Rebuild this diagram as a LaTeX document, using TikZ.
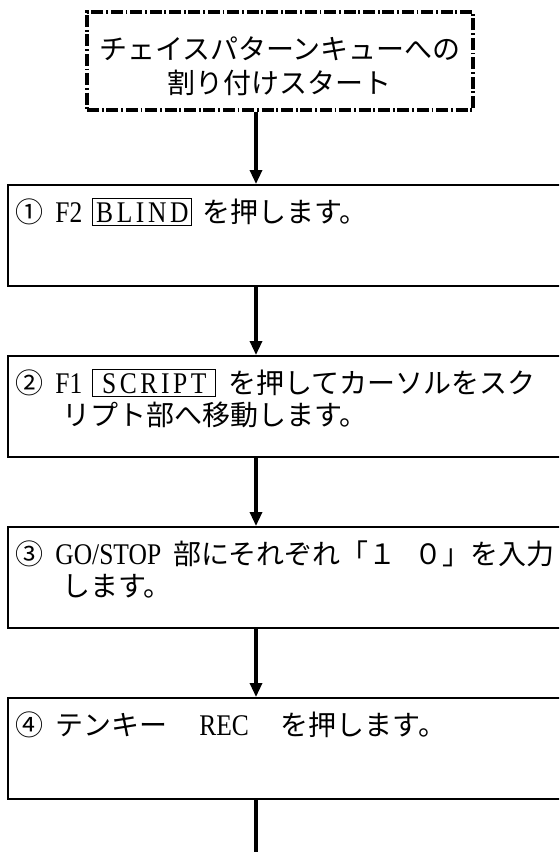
\documentclass[tikz,border=0pt]{standalone}
\usepackage{fontspec}
\setmainfont{Noto Sans CJK JP}
\newfontfamily\latinfont[FakeStretch=0.85]{Liberation Serif}
\usetikzlibrary{arrows.meta}

\newcommand\lat[1]{{\latinfont\fontsize{15pt}{16pt}\selectfont #1}}
\newcommand\keycap[2]{{\setlength\fboxsep{1.5pt}\setlength\fboxrule{0.5pt}\fbox{\makebox[#1][c]{\lat{\addfontfeature{LetterSpace=12}#2}}}}}

\tikzset{
  stepbox/.style={draw, line width=0.9pt, minimum width=282pt, minimum height=50.5pt, anchor=north west, inner sep=0pt},
  startbox/.style={draw, line width=2pt, dash pattern=on 6pt off 1.4pt on 0.9pt off 1.4pt, minimum width=193pt, minimum height=49pt, align=center, font=\fontsize{14pt}{17pt}\selectfont},
  steptext/.style={anchor=base west, inner sep=0pt, font=\fontsize{14pt}{16pt}\selectfont},
  flow/.style={line width=1.6pt, -{Triangle[length=7pt,width=6pt]}}
}

\begin{document}
\begin{tikzpicture}[x=0.5pt, y=-0.5pt]
  \clip (0,0) rectangle (559,852);

  % Start box
  \node[startbox] (start) at (280,61) {\rule{0pt}{17pt}チェイスパターンキューへの\\割り付けスタート};

  % Step boxes
  \foreach \i/\top in {1/184, 2/355, 3/526, 4/697} {
    \node[stepbox] (step\i) at (7,\top) {};
  }

  % Step texts
  \node[steptext] (t1a) at (15,222) {①\hspace{6pt}\lat{F2}\hspace{5pt}\keycap{46pt}{BLIND}\hspace{5pt}を押します。};
  \node[steptext] (t2a) at (15,393) {②\hspace{6pt}\lat{F1}\hspace{5pt}\keycap{58pt}{SCRIPT}\hspace{6pt}を押してカーソルをスク};
  \node[steptext] (t2b) at (62,425) {リプト部へ移動します。};
  \node[steptext] (t3a) at (15,564) {③\hspace{6pt}\lat{GO/STOP}\hspace{6pt}部にそれぞれ「１\hspace{9pt}０」を入力};
  \node[steptext] (t3b) at (62,596) {します。};
  \node[steptext] (t4a) at (15,735) {④\hspace{6pt}テンキー\hspace{16pt}\lat{REC}\hspace{16pt}を押します。};

  % Flow line
  \coordinate (spine) at (256,0);
  \coordinate (tail) at (256,860);
  \draw[flow] (start.south -| spine) -- (step1.north -| spine);
  \foreach \a/\b in {1/2, 2/3, 3/4}
    \draw[flow] (step\a.south -| spine) -- (step\b.north -| spine);
  \draw[line width=1.6pt] (step4.south -| spine) -- (tail);
\end{tikzpicture}
\end{document}
